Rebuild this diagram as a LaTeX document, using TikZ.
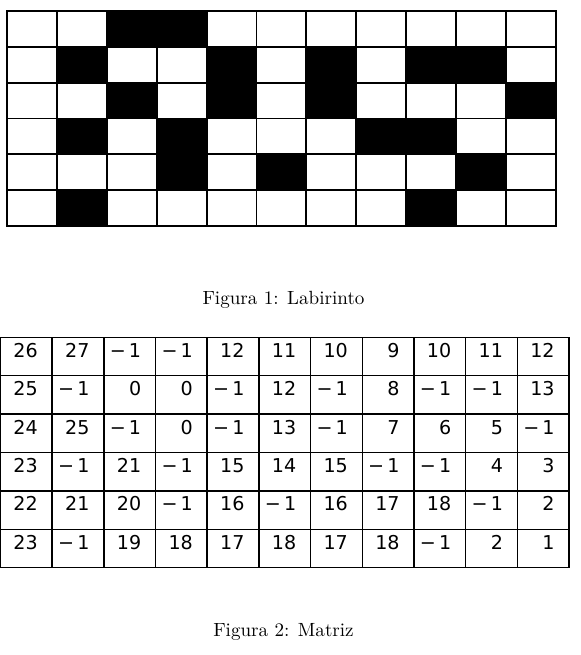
\documentclass[tikz,border=0pt]{standalone}
\usepackage{fontspec}
\newfontfamily\cellfont{DejaVu Sans}
\newcommand\cellval[1]{\ifnum#1<0 −\,\the\numexpr-#1\relax\else#1\fi}
\tikzset{
  maze/.style={line width=1pt,line cap=rect},
  matline/.style={line width=.8pt,line cap=rect},
  num/.style={anchor=base east,inner sep=0pt,font=\cellfont\fontsize{10}{12}\selectfont}
}
\begin{document}
\begin{tikzpicture}[x=0.5236pt,y=-0.5236pt]
  \useasboundingbox (0,0) rectangle (580,655);
  % labirinto: black cells (row/column)
  \foreach \r/\c in {0/2,0/3,1/1,1/4,1/6,1/8,1/9,2/2,2/4,2/6,2/10,
                     3/1,3/3,3/7,3/8,4/3,4/5,4/9,5/1,5/8}
    \fill ({7+49.9*\c},{11+35.83*\r}) rectangle +(49.9,35.83);
  \foreach \i in {0,...,11}
    \draw[maze] ({7+49.9*\i},11) -- ({7+49.9*\i},226);
  \foreach \j in {0,...,6}
    \draw[maze] (7,{11+35.83*\j}) -- (556,{11+35.83*\j});
  \node[anchor=base] (cap1) at (283.5,304) {Figura 1: Labirinto};
  % matriz
  \foreach \i in {0,...,11}
    \draw[matline] ({0.5+51.68*\i},337.3) -- ({0.5+51.68*\i},567.7);
  \foreach \j in {0,...,6}
    \draw[matline] (0.5,{337.3+38.4*\j}) -- (569,{337.3+38.4*\j});
  \foreach \vals [count=\r from 0] in {
      {26,27,-1,-1,12,11,10,9,10,11,12},
      {25,-1,0,0,-1,12,-1,8,-1,-1,13},
      {24,25,-1,0,-1,13,-1,7,6,5,-1},
      {23,-1,21,-1,15,14,15,-1,-1,4,3},
      {22,21,20,-1,16,-1,16,17,18,-1,2},
      {23,-1,19,18,17,18,17,18,-1,2,1}}
    \foreach \v [count=\c from 1] in \vals
      \node[num] (m-\r-\c) at ({0.5+51.68*\c-14},{337.3+38.4*\r+20}) {\cellval{\v}};
  \node[anchor=base] (cap2) at (283.5,636) {Figura 2: Matriz};
\end{tikzpicture}
\end{document}
